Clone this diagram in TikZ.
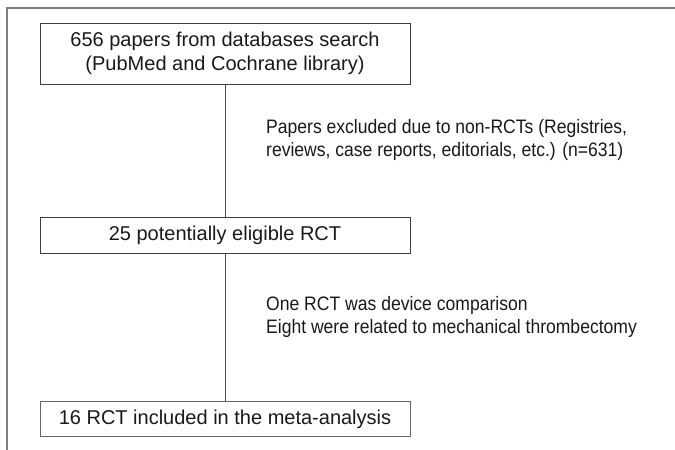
\documentclass[tikz,border=0pt]{standalone}
\usepackage{fontspec}
\setmainfont{Liberation Sans}
% narrower cut of the same face for the side notes
\newfontfamily\notefont{Liberation Sans}[FakeStretch=0.9]
\begin{document}
\begin{tikzpicture}[x=1pt,y=-1pt,
  flowbox/.style={draw=black!75, line width=1pt, minimum width=370pt,
    inner sep=0pt, align=center, text=black!90,
    font=\fontsize{20}{24}\selectfont},
  note/.style={anchor=west, align=left, inner sep=0pt, text=black!90,
    font=\notefont\fontsize{19.5}{23}\selectfont},
  link/.style={draw=black!70, line width=1pt}]
  % page area
  \useasboundingbox (0,0) rectangle (675,450);
  % open frame: top and left edges only
  \draw[black!50, line width=1.5pt] (675,8) -- (7,8) -- (7,450);

  % flow boxes
  \node[flowbox, minimum height=61pt] (search) at (225,53.5)
    {656 papers from databases search\\(PubMed and Cochrane library)};
  \node[flowbox, minimum height=36pt] (eligible) at (225,235)
    {25 potentially eligible RCT};
  \node[flowbox, draw=black!60, minimum height=35pt] (included) at (225,419)
    {16 RCT included in the meta-analysis};

  % connectors
  \draw[link] (search.south) -- (eligible.north);
  \draw[link] (eligible.south) -- (included.north);

  % exclusion notes
  \node[note] (excl1) at (266,139.5)
    {Papers excluded due to non-RCTs (Registries,\\reviews, case reports, editorials, etc.) (n=631)};
  \node[note] (excl2) at (266,316.5)
    {One RCT was device comparison\\Eight were related to mechanical thrombectomy};
\end{tikzpicture}
\end{document}
